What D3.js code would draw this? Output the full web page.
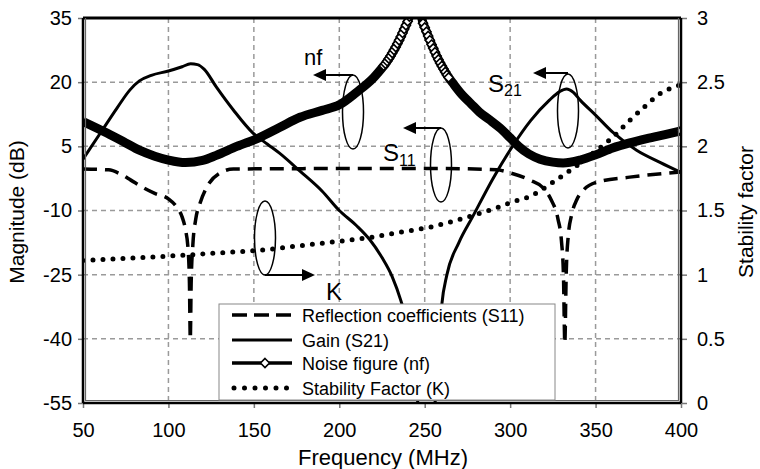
<!DOCTYPE html>
<html>
<head>
<meta charset="utf-8">
<script src="https://cdn.jsdelivr.net/npm/d3@7"></script>
<style>
  body { margin: 0; background: #fff; }
  text { font-family: "Liberation Sans", Arial, sans-serif; fill: #000; }
</style>
</head>
<body>
<svg id="chart" width="760" height="469"></svg>
<script>
// ---------------- DATA ----------------
const xTicks = [50, 100, 150, 200, 250, 300, 350, 400];
const leftTicks = [35, 20, 5, -10, -25, -40, -55];
const rightTicks = [0, 0.5, 1, 1.5, 2, 2.5, 3];

// Reflection coefficient S11 (dB): [MHz, dB]
const s11 = [
  [50, -0.3], [65, -0.5], [72, -1.5], [78, -2.9], [85, -4.6], [92, -6.0], [100, -7.3],
  [105, -9.3], [108, -11.5], [110, -14.5], [111.5, -19], [112.3, -27], [112.8, -40],
  [113.3, -27], [114.3, -18], [116, -12], [118.5, -8.3], [122.5, -4.5], [130, -1.3],
  [138, -0.3], [200, -0.2], [261, -0.2], [292, -0.5], [300, -1.2], [311.6, -2.9],
  [319, -4.6], [324, -7.5], [328, -12], [330, -17], [331.2, -25], [332, -41],
  [332.8, -25], [334, -16], [336, -11], [339, -7.5], [343, -5.2], [350.6, -3.4],
  [370, -2.2], [400, -1.0]
];

// Gain S21 (dB)
const gain = [
  [50, 2], [60, 8], [70, 14], [77.5, 18.2], [83, 20.3], [90, 21.6], [100, 22.6],
  [108, 23.6], [113, 24.3], [117, 24.1], [121, 23], [128, 18.9], [138, 13.5],
  [149.5, 8.1], [158, 5.5], [165, 3.4], [177, -0.8], [190, -5.5], [200, -10],
  [210, -13.5], [218, -16.9], [225, -21], [231, -25.5], [236, -31], [240, -37],
  [243, -45], [246, -55], [250, -62], [256, -55], [258, -43], [260, -32], [263, -25],
  [270, -17.5], [278, -11.5], [290, -2.5], [301.7, 5.2], [312, 11], [323, 15.8],
  [329, 17.8], [333, 18.4], [337, 17.6], [341, 15.8], [350, 12.3], [360, 8.3],
  [374, 4.1], [388, 1.2], [400, -1.1]
];

// Noise figure nf (dB)
const nf = [
  [50, 10.8], [64, 8.1], [75, 5.8], [83, 4.1], [92, 2.7], [100, 1.8], [110, 1.2],
  [120, 1.7], [128, 2.9], [140, 5.0], [153, 7.0], [165, 9.4], [177, 11.8], [190, 13.4],
  [200, 14.7], [210, 17.6], [220, 21.0], [226, 23.8], [227, 24.3], [228, 24.9],
  [229, 25.5], [230, 26.1], [231, 26.8], [232, 27.5], [233, 28.2], [234, 29.0],
  [235, 29.8], [236, 30.6], [237, 31.5], [238, 32.4], [239, 33.3], [240, 34.2],
  [241, 35.3], [242, 36.5], [245, 40], [248, 35.5], [249, 33.8], [250, 32.8],
  [251, 31.8], [252, 30.8], [253, 29.8], [254, 28.8], [255, 27.9], [256, 27.0],
  [257, 26.1], [258, 25.3], [259, 24.5], [260, 23.8], [261, 23.1], [262, 22.4],
  [263, 21.7], [264, 21.1], [267, 19.5], [272, 17.0], [277, 15.0], [282, 13.0],
  [288, 11.2], [294, 9.3], [300, 7.0], [305, 5.0], [311, 3.2], [317.5, 2.0],
  [325, 1.3], [331, 1.1], [341, 1.8], [350, 3.0], [360, 4.6], [370, 5.8],
  [380, 6.8], [390, 7.7], [400, 8.6]
];

// Stability factor K (right axis)
const kFactor = [
  [50, 1.11], [80, 1.13], [107, 1.15], [130, 1.17], [153, 1.19], [180, 1.23],
  [200, 1.26], [218, 1.29], [235, 1.33], [253, 1.37], [265, 1.41], [278, 1.46],
  [292, 1.52], [302, 1.57], [311.6, 1.61], [325, 1.72], [337, 1.83], [347, 1.93],
  [355.5, 2.02], [360, 2.07], [369, 2.19], [378, 2.30], [387.7, 2.41], [393.5, 2.45],
  [400, 2.48]
];

const legendLabels = ["Reflection coefficients (S11)", "Gain (S21)", "Noise figure (nf)", "Stability Factor (K)"];

// ---------------- LAYOUT ----------------
const L = 83, R = 681, T = 18, B = 403;
const svg = d3.select("#chart");
const x = d3.scaleLinear().domain([50, 400]).range([L, R]);
const yL = d3.scaleLinear().domain([-55, 35]).range([B, T]);
const yR = d3.scaleLinear().domain([0, 3]).range([B, T]);

svg.append("defs").append("clipPath").attr("id", "clip")
  .append("rect").attr("x", L).attr("y", T).attr("width", R - L).attr("height", B - T);

// grid
const grid = svg.append("g");
xTicks.filter(t => t > 50 && t < 400).forEach(t => {
  grid.append("line").attr("x1", x(t)).attr("x2", x(t)).attr("y1", T).attr("y2", B)
    .attr("stroke", "#9a9a9a").attr("stroke-width", 1.5).attr("stroke-dasharray", "5,4");
});
leftTicks.filter(t => t < 35 && t > -55).forEach(t => {
  grid.append("line").attr("x1", L).attr("x2", R).attr("y1", yL(t)).attr("y2", yL(t))
    .attr("stroke", "#9a9a9a").attr("stroke-width", 1.5).attr("stroke-dasharray", "5,4");
});

// axes
const fs = "20px";
const plain = d => String(d);
const gx = svg.append("g").attr("transform", `translate(0,${B})`)
  .call(d3.axisBottom(x).tickValues(xTicks).tickSize(5).tickPadding(15).tickSizeOuter(0).tickFormat(plain));
const gl = svg.append("g").attr("transform", `translate(${L},0)`)
  .call(d3.axisLeft(yL).tickValues(leftTicks).tickSize(5).tickPadding(6).tickSizeOuter(0).tickFormat(plain));
const gr = svg.append("g").attr("transform", `translate(${R},0)`)
  .call(d3.axisRight(yR).tickValues(rightTicks).tickSize(6).tickPadding(10).tickSizeOuter(0).tickFormat(plain));
[gx, gl, gr].forEach(g => {
  g.select(".domain").remove();
  g.selectAll(".tick line").attr("stroke", "#777").attr("stroke-width", 1.5);
  g.selectAll(".tick text").style("font-size", fs).style("font-family", '"Liberation Sans", Arial, sans-serif');
});

// series
const plot = svg.append("g").attr("clip-path", "url(#clip)");
const lineL = d3.line().x(d => x(d[0])).y(d => yL(d[1])).curve(d3.curveMonotoneX);
const lineR = d3.line().x(d => x(d[0])).y(d => yR(d[1])).curve(d3.curveMonotoneX);

plot.append("path").datum(kFactor).attr("d", lineR).attr("fill", "none")
  .attr("stroke", "#000").attr("stroke-width", 5).attr("stroke-linecap", "round")
  .attr("stroke-dasharray", "0,10");
plot.append("path").datum(s11).attr("d", lineL).attr("fill", "none")
  .attr("stroke", "#000").attr("stroke-width", 3.5).attr("stroke-dasharray", "14,8");
plot.append("path").datum(gain).attr("d", lineL).attr("fill", "none")
  .attr("stroke", "#000").attr("stroke-width", 3);
plot.append("path").datum(nf).attr("d", lineL).attr("fill", "none")
  .attr("stroke", "#000").attr("stroke-width", 9).attr("stroke-linejoin", "round");

const diamond = (cx, cy, r) => `M${cx},${cy - r}L${cx + r},${cy}L${cx},${cy + r}L${cx - r},${cy}Z`;
const markerPts = nf.filter((d, i) => (d[0] >= 226 && d[0] <= 264) || i === nf.length - 1);
plot.selectAll(".dm").data(markerPts).enter().append("path")
  .attr("d", d => diamond(x(d[0]), yL(d[1]), 4.5))
  .attr("fill", "#fff").attr("stroke", "#000").attr("stroke-width", 1.6);

// frame
svg.append("line").attr("x1", L).attr("x2", R).attr("y1", T).attr("y2", T).attr("stroke", "#000").attr("stroke-width", 3);
svg.append("line").attr("x1", L).attr("x2", L).attr("y1", T).attr("y2", B).attr("stroke", "#000").attr("stroke-width", 2.5);
svg.append("line").attr("x1", L + 2.5).attr("x2", L + 2.5).attr("y1", T).attr("y2", B - 2).attr("stroke", "#666").attr("stroke-width", 1.2);
svg.append("line").attr("x1", R).attr("x2", R).attr("y1", T).attr("y2", B).attr("stroke", "#000").attr("stroke-width", 2.5);
svg.append("line").attr("x1", R - 2.5).attr("x2", R - 2.5).attr("y1", T).attr("y2", B - 2).attr("stroke", "#666").attr("stroke-width", 1.2);
svg.append("line").attr("x1", L).attr("x2", R).attr("y1", B).attr("y2", B).attr("stroke", "#000").attr("stroke-width", 2.5);
svg.append("line").attr("x1", L + 2).attr("x2", R - 2).attr("y1", B - 2.5).attr("y2", B - 2.5).attr("stroke", "#666").attr("stroke-width", 1.2);

// axis titles
svg.append("text").attr("transform", "translate(24,212) rotate(-90)").attr("text-anchor", "middle")
  .style("font-size", "21px").text("Magnitude (dB)");
svg.append("text").attr("transform", "translate(753,212) rotate(-90)").attr("text-anchor", "middle")
  .style("font-size", "21px").text("Stability factor");
svg.append("text").attr("x", 383).attr("y", 465).attr("text-anchor", "middle")
  .style("font-size", "22px").text("Frequency (MHz)");

// annotations
const ann = svg.append("g");
function ellipse(cx, cy) {
  ann.append("ellipse").attr("cx", cx).attr("cy", cy).attr("rx", 10.5).attr("ry", 37)
    .attr("fill", "none").attr("stroke", "#000").attr("stroke-width", 1.5);
}
function arrow(x1, y, x2) {
  const dir = Math.sign(x2 - x1);
  ann.append("line").attr("x1", x1).attr("x2", x2 - dir * 10).attr("y1", y).attr("y2", y)
    .attr("stroke", "#000").attr("stroke-width", 2);
  ann.append("path").attr("d", `M${x2},${y}L${x2 - dir * 13},${y - 6}L${x2 - dir * 13},${y + 6}Z`).attr("fill", "#000");
}
ellipse(353, 112); arrow(353, 75, 313);
ellipse(441, 165); arrow(441, 128, 403);
ellipse(568, 111); arrow(568, 73, 533);
ellipse(265, 238); arrow(265, 275, 315);

ann.append("text").attr("x", 304).attr("y", 65).style("font-size", "22px").text("nf");
ann.append("text").attr("x", 326).attr("y", 300).style("font-size", "24px").text("K");
const s11t = ann.append("text").attr("x", 383).attr("y", 161).style("font-size", "24px");
s11t.append("tspan").text("S");
s11t.append("tspan").attr("dy", 5).style("font-size", "16px").text("11");
const s21t = ann.append("text").attr("x", 488).attr("y", 92).style("font-size", "24px");
s21t.append("tspan").text("S");
s21t.append("tspan").attr("dy", 4).style("font-size", "16px").text("21");

// legend
const lg = svg.append("g").attr("transform", "translate(219,304)");
lg.append("rect").attr("width", 336).attr("height", 96).attr("fill", "#fff")
  .attr("stroke", "#888").attr("stroke-width", 1);
const rowY = [11, 36, 59, 84];
legendLabels.forEach((lab, i) => {
  const y = rowY[i];
  const s = lg.append("line").attr("x1", 13).attr("x2", 73).attr("y1", y).attr("y2", y).attr("stroke", "#000");
  if (i === 0) s.attr("stroke-width", 3.5).attr("stroke-dasharray", "15,7");
  if (i === 1) s.attr("stroke-width", 3);
  if (i === 2) {
    s.attr("stroke-width", 3.5);
    lg.append("path").attr("d", diamond(46, y, 4.5)).attr("fill", "#fff").attr("stroke", "#000").attr("stroke-width", 1.6);
  }
  if (i === 3) s.attr("stroke-width", 5).attr("stroke-linecap", "round").attr("stroke-dasharray", "0,10.5").attr("x1", 15);
  lg.append("text").attr("x", 83).attr("y", y + 6.5).style("font-size", "18px").text(lab);
});
</script>
</body>
</html>
